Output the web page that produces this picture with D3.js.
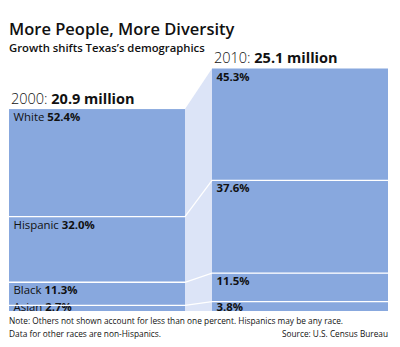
<!DOCTYPE html>
<html>
<head>
<meta charset="utf-8">
<script src="https://cdn.jsdelivr.net/npm/d3@7"></script>
<style>
  body { margin: 0; background: #fff; }
  svg { display: block; }
  text { font-family: "Open Sans", sans-serif; fill: #111; }
</style>
</head>
<body>
<svg id="chart" width="400" height="347"></svg>
<script>
var years = ["2000", "2010"],
    population = [20.9, 25.1],          // millions
    groups = ["White", "Hispanic", "Black", "Asian"],
    share2000 = [52.4, 32.0, 11.3, 2.7],
    share2010 = [45.3, 37.6, 11.5, 3.8];

var shares = [share2000, share2010];

var width = 400, height = 347,
    baseline = 311;

var barColor = "#88a8de",
    linkColor = "#dce4f7";

var svg = d3.select("#chart");

var x = d3.scaleBand()
    .domain(years)
    .range([9, 388])
    .paddingInner(0.133);

// bar height proportional to total population
var h = d3.scaleLinear()
    .domain([0, 25.1])
    .range([0, 242.5]);

// stacked segments, top to bottom, each bar filled by its listed groups
var bars = years.map(function(yr, i) {
  var vals = shares[i],
      total = d3.sum(vals),
      top = baseline - h(population[i]);
  var y = d3.scaleLinear().domain([0, total]).range([top, baseline]);
  var acc = 0;
  var segs = vals.map(function(v, j) {
    var s = {group: groups[j], value: v, y0: y(acc), y1: y(acc + v)};
    acc += v;
    return s;
  });
  return {year: yr, pop: population[i], top: top, x0: x(yr), x1: x(yr) + x.bandwidth(), segs: segs};
});

var L = bars[0], R = bars[1];

// connector band between the two bars
svg.append("path")
    .attr("d", d3.line()([[L.x1, L.top], [R.x0, R.top], [R.x0, baseline], [L.x1, baseline]]) + "Z")
    .attr("fill", linkColor);

var g = svg.selectAll(".bar")
    .data(bars)
  .enter().append("g")
    .attr("class", "bar");

g.selectAll("rect")
    .data(function(d) { return d.segs.map(function(s) { s.bx = d.x0; return s; }); })
  .enter().append("rect")
    .attr("x", function(d) { return d.bx; })
    .attr("y", function(d) { return d.y0; })
    .attr("width", x.bandwidth())
    .attr("height", function(d) { return d.y1 - d.y0; })
    .attr("fill", barColor);

// white dividers inside bars plus the links across the gap
var dividers = [];
for (var j = 1; j < groups.length; j++) {
  dividers.push([[L.x0, L.segs[j].y0], [L.x1, L.segs[j].y0], [R.x0, R.segs[j].y0], [R.x1, R.segs[j].y0]]);
}
svg.selectAll(".divider")
    .data(dividers)
  .enter().append("path")
    .attr("class", "divider")
    .attr("d", d3.line())
    .attr("fill", "none")
    .attr("stroke", "#fff")
    .attr("stroke-width", 1.3);

// segment labels
g.each(function(b, i) {
  var sel = d3.select(this);
  b.segs.forEach(function(s) {
    var t = sel.append("text")
        .attr("x", b.x0 + 4.5)
        .attr("y", Math.min(s.y0 + 12, baseline))
        .style("font-size", "11.4px");
    if (i === 0) t.append("tspan").text(s.group + " ");
    t.append("tspan").style("font-weight", 700).text(d3.format(".1f")(s.value) + "%");
  });
});

// year headers
svg.selectAll(".year")
    .data(bars)
  .enter().append("text")
    .attr("class", "year")
    .attr("x", function(d) { return d.x0 + 2; })
    .attr("y", function(d) { return d.top - 5.5; })
    .style("font-size", "14.5px")
    .each(function(d) {
      var t = d3.select(this);
      t.append("tspan").style("font-weight", 300).text(d.year + ": ");
      t.append("tspan").style("font-weight", 700).text(d.pop + " million");
    });

// title block
svg.append("text")
    .attr("x", 9).attr("y", 34.5)
    .style("font-size", "16.5px")
    .style("font-weight", 600)
    .text("More People, More Diversity");

svg.append("text")
    .attr("x", 9).attr("y", 51.5)
    .style("font-size", "11.3px")
    .style("font-weight", 600)
    .text("Growth shifts Texas\u2019s demographics");

// footnotes
var foot = svg.append("g")
    .style("font-family", "'Liberation Sans Narrow', 'Open Sans', sans-serif")
    .style("font-size", "9.3px")
    .style("fill", "#222");

foot.append("text")
    .attr("x", 9).attr("y", 324)
    .attr("textLength", 334)
    .attr("lengthAdjust", "spacingAndGlyphs")
    .text("Note: Others not shown account for less than one percent. Hispanics may be any race.");
foot.append("text")
    .attr("x", 9).attr("y", 336.5)
    .attr("textLength", 152)
    .attr("lengthAdjust", "spacingAndGlyphs")
    .text("Data for other races are non-Hispanics.");
foot.append("text")
    .attr("x", 388).attr("y", 336.5)
    .attr("text-anchor", "end")
    .attr("textLength", 106)
    .attr("lengthAdjust", "spacingAndGlyphs")
    .text("Source: U.S. Census Bureau");
</script>
</body>
</html>
